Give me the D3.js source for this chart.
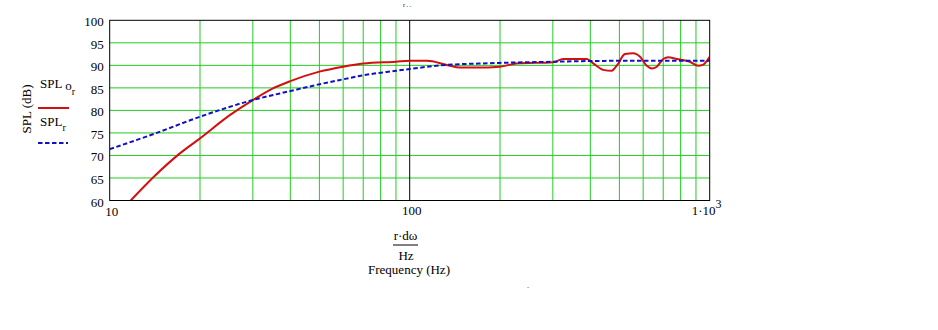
<!DOCTYPE html>
<html>
<head>
<meta charset="utf-8">
<script src="https://cdn.jsdelivr.net/npm/d3@7"></script>
<style>
  body { margin: 0; background: #fff; }
  svg { display: block; font-family: "Liberation Serif", "Times New Roman", serif; }
  .tick-label { font-size: 13px; fill: #000; }
</style>
</head>
<body>
<div class="content"></div>
<script>
// Data
const freqOr = [11.75, 14.2, 17.1, 20, 25.2, 30, 35, 40, 50, 60, 70, 90, 100, 114, 133, 147, 167, 200, 227, 301, 325, 389, 410, 442, 471, 492, 522, 556, 586, 617, 641, 666, 700, 728, 776, 859, 916, 948, 1000];
const splOr = [60, 65.6, 70.4, 73.8, 79, 82.3, 84.9, 86.5, 88.6, 89.7, 90.4, 90.8, 91.0, 91.0, 90.1, 89.5, 89.5, 89.7, 90.4, 90.7, 91.4, 91.4, 90.4, 89.0, 88.8, 90.1, 92.5, 92.7, 91.9, 89.9, 89.3, 89.7, 91.4, 91.8, 91.4, 90.8, 89.9, 90.1, 91.9];

const freqR = [10, 14.2, 20, 30, 40, 50, 60, 70, 90, 100, 133, 170, 300, 480, 1000];
const splR = [71.4, 74.9, 78.6, 82.3, 84.3, 85.8, 86.9, 87.8, 88.8, 89.2, 90.1, 90.4, 90.8, 91.0, 91.0];

const yTicks = [60, 65, 70, 75, 80, 85, 90, 95, 100];
const xMinor = [20, 30, 40, 50, 60, 70, 80, 90, 200, 300, 400, 500, 600, 700, 800, 900];

// Dimensions
const W = 938, H = 330;
const plot = { left: 109.7, right: 709.7, top: 20.3, bottom: 200.5 };
const green = "#22cc22";

const svg = d3.select(".content").append("svg")
  .attr("width", W).attr("height", H);

const x = d3.scaleLog().domain([10, 1000]).range([plot.left, plot.right]);
const y = d3.scaleLinear().domain([60, 100]).range([plot.bottom, plot.top]);

// Grid
const grid = svg.append("g");
grid.selectAll(".hgrid")
  .data(yTicks.filter((d) => d > 60 && d < 100))
  .join("line")
  .attr("x1", plot.left).attr("x2", plot.right)
  .attr("y1", (d) => y(d)).attr("y2", (d) => y(d))
  .attr("stroke", green).attr("stroke-width", 1);

grid.selectAll(".vgrid")
  .data(xMinor)
  .join("line")
  .attr("x1", (d) => x(d)).attr("x2", (d) => x(d))
  .attr("y1", plot.top).attr("y2", plot.bottom)
  .attr("stroke", green).attr("stroke-width", 1);

// decade line at 100 is black
grid.append("line")
  .attr("x1", x(100)).attr("x2", x(100))
  .attr("y1", plot.top).attr("y2", plot.bottom)
  .attr("stroke", "#000").attr("stroke-width", 1);

// Curves
svg.append("clipPath").attr("id", "clip")
  .append("rect")
  .attr("x", plot.left).attr("y", plot.top)
  .attr("width", plot.right - plot.left).attr("height", plot.bottom - plot.top);

const line = d3.line()
  .x((d) => x(d[0]))
  .y((d) => y(d[1]))
  .curve(d3.curveMonotoneX);

svg.append("path")
  .datum(freqOr.map((f, i) => [f, splOr[i]]))
  .attr("clip-path", "url(#clip)")
  .attr("d", line)
  .attr("fill", "none")
  .attr("stroke", "#d40f0f")
  .attr("stroke-width", 2);

svg.append("path")
  .datum(freqR.map((f, i) => [f, splR[i]]))
  .attr("clip-path", "url(#clip)")
  .attr("d", line)
  .attr("fill", "none")
  .attr("stroke", "#1010c8")
  .attr("stroke-width", 2)
  .attr("stroke-dasharray", "4.5,2.5");

// Frame
svg.append("rect")
  .attr("x", plot.left).attr("y", plot.top)
  .attr("width", plot.right - plot.left).attr("height", plot.bottom - plot.top)
  .attr("fill", "none").attr("stroke", "#000").attr("stroke-width", 1);

// Y tick labels
svg.selectAll(".ylab")
  .data(yTicks)
  .join("text")
  .attr("class", "tick-label")
  .attr("x", plot.left - 6)
  .attr("y", (d) => y(d) + 6)
  .attr("text-anchor", "end")
  .text((d) => d);

// X tick labels
svg.append("text").attr("class", "tick-label")
  .attr("x", x(10) + 2).attr("y", plot.bottom + 15)
  .attr("text-anchor", "middle").text("10");
svg.append("text").attr("class", "tick-label")
  .attr("x", x(100) + 2).attr("y", plot.bottom + 14)
  .attr("text-anchor", "middle").text("100");
const t1k = svg.append("text").attr("class", "tick-label")
  .attr("x", x(1000) - 18).attr("y", plot.bottom + 14);
t1k.append("tspan").text("1·10");
t1k.append("tspan").attr("dy", -7).attr("font-size", 12).text("3");

// Y axis title and legend
svg.append("text")
  .attr("transform", "translate(31,109) rotate(-90)")
  .attr("text-anchor", "middle")
  .attr("font-size", 13)
  .text("SPL (dB)");

const lg1 = svg.append("text").attr("x", 40).attr("y", 88).attr("font-size", 13);
lg1.append("tspan").text("SPL ");
lg1.append("tspan").attr("dy", 2).text("o");
lg1.append("tspan").attr("dy", 5).attr("font-size", 10).text("r");
svg.append("line")
  .attr("x1", 38).attr("x2", 69).attr("y1", 108).attr("y2", 108)
  .attr("stroke", "#d40f0f").attr("stroke-width", 2);

const lg2 = svg.append("text").attr("x", 40).attr("y", 126).attr("font-size", 13);
lg2.append("tspan").text("SPL");
lg2.append("tspan").attr("dy", 5).attr("font-size", 10).text("r");
svg.append("line")
  .attr("x1", 38).attr("x2", 68).attr("y1", 143).attr("y2", 143)
  .attr("stroke", "#1010c8").attr("stroke-width", 2)
  .attr("stroke-dasharray", "4.5,2.5");

// X axis title
const cx = 405.5;
svg.append("text").attr("x", cx).attr("y", 240)
  .attr("text-anchor", "middle").attr("font-size", 13).text("r·dω");
svg.append("line")
  .attr("x1", 393).attr("x2", 418).attr("y1", 245).attr("y2", 245)
  .attr("stroke", "#000").attr("stroke-width", 1);
svg.append("text").attr("x", cx + 0.5).attr("y", 260)
  .attr("text-anchor", "middle").attr("font-size", 13).text("Hz");
svg.append("text").attr("x", 409).attr("y", 274)
  .attr("text-anchor", "middle").attr("font-size", 13).text("Frequency (Hz)");

// small stray marks seen in the picture
svg.append("text").attr("x", 403).attr("y", 7)
  .attr("font-size", 6).text("r . .");
svg.append("text").attr("x", 527).attr("y", 288)
  .attr("font-size", 8).text(".");
</script>
</body>
</html>
